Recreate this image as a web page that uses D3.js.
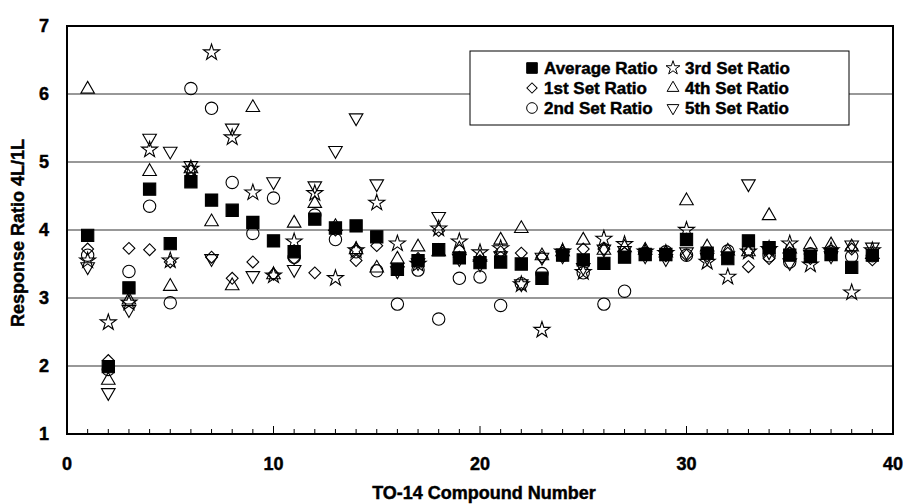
<!DOCTYPE html>
<html>
<head>
<meta charset="utf-8">
<script src="https://cdn.jsdelivr.net/npm/d3@7"></script>
<style>
  body { margin: 0; background: #fff; }
  text { font-family: "Liberation Sans", Arial, sans-serif; font-weight: bold; stroke: #000; stroke-width: 0.45px; }
</style>
</head>
<body>
<div id="chart"></div>
<script>
// compound numbers 1..39
const compounds = d3.range(1, 40);

const avgRatio = [3.92,1.99,3.15,4.60,3.80,4.71,4.44,4.29,4.11,3.84,3.68,4.16,4.03,4.06,3.90,3.42,3.55,3.71,3.59,3.52,
                  3.53,3.50,3.29,3.63,3.56,3.51,3.60,3.64,3.64,3.86,3.66,3.58,3.84,3.74,3.63,3.61,3.64,3.45,3.63];
const set1Ratio = [3.72,2.08,3.73,3.71,3.53,4.87,3.60,3.29,3.53,3.35,3.58,3.37,4.00,3.55,3.77,3.42,3.58,3.99,3.60,3.55,
                   3.68,3.66,3.60,3.66,3.72,3.72,3.66,3.66,3.62,3.63,3.62,3.66,3.46,3.58,3.66,3.58,3.66,3.72,3.56];
const set2Ratio = [3.63,1.95,3.39,4.35,2.93,6.08,5.79,4.70,3.95,4.47,3.60,4.22,3.86,3.68,3.40,2.91,3.41,2.69,3.29,3.31,
                   2.89,3.21,3.36,3.63,3.37,2.91,3.10,3.66,3.68,3.63,3.66,3.69,3.72,3.62,3.53,3.65,3.68,3.61,3.62];
const set3Ratio = [3.55,2.64,2.93,5.18,3.55,4.90,6.61,5.36,4.55,3.33,3.83,4.54,3.29,3.70,4.40,3.80,3.50,4.02,3.83,3.67,
                   3.73,3.20,2.53,3.68,3.38,3.87,3.79,3.68,3.66,4.00,3.53,3.31,3.68,3.72,3.80,3.49,3.70,3.08,3.70];
const set4Ratio = [6.07,1.79,2.97,4.86,3.17,4.90,4.12,3.18,5.80,3.34,4.10,4.39,4.05,3.71,3.44,3.57,3.75,3.68,3.72,3.60,
                   3.85,4.02,3.62,3.68,3.85,3.70,3.74,3.70,3.66,4.43,3.75,3.69,3.68,4.21,3.72,3.78,3.78,3.75,3.64];
const set5Ratio = [3.46,1.61,2.83,5.35,5.16,4.95,3.58,5.50,3.33,4.71,3.42,4.65,5.17,5.65,4.68,3.40,3.52,4.20,3.58,3.50,
                   3.62,3.21,3.60,3.62,3.45,3.72,3.70,3.62,3.58,3.68,3.60,3.62,4.68,3.68,3.52,3.64,3.62,3.78,3.75];

const seriesNames = ["Average Ratio", "1st Set Ratio", "2nd Set Ratio", "3rd Set Ratio", "4th Set Ratio", "5th Set Ratio"];
const xTicks = [0, 10, 20, 30, 40];
const yTicks = [1, 2, 3, 4, 5, 6, 7];

const W = 907, H = 504;
const margin = { top: 26, right: 14, bottom: 70, left: 67 };
const width = W - margin.left - margin.right;
const height = H - margin.top - margin.bottom;

const svg = d3.select("#chart").append("svg")
  .attr("width", W).attr("height", H);
const g = svg.append("g")
  .attr("transform", "translate(" + margin.left + "," + margin.top + ")");

const x = d3.scaleLinear().domain([0, 40]).range([0, width]);
const y = d3.scaleLinear().domain([1, 7]).range([height, 0]);

// grid lines
g.selectAll(".grid").data(yTicks.slice(1, -1)).enter().append("line")
  .attr("x1", 0).attr("x2", width)
  .attr("y1", d => y(d)).attr("y2", d => y(d))
  .attr("stroke", "#333").attr("stroke-width", 1.2);

// x ticks (inward, minor every 1, major every 10)
g.selectAll(".xt").data(d3.range(0, 41)).enter().append("line")
  .attr("x1", d => x(d)).attr("x2", d => x(d))
  .attr("y1", height).attr("y2", d => height - (d % 10 === 0 ? 8 : 5))
  .attr("stroke", "#000").attr("stroke-width", 1);

// tick labels
g.selectAll(".xl").data(xTicks).enter().append("text")
  .attr("x", d => x(d)).attr("y", height + 36)
  .attr("text-anchor", "middle").style("font-size", "18px")
  .text(d => d);
g.selectAll(".yl").data(yTicks).enter().append("text")
  .attr("x", -23).attr("y", d => y(d) + 6)
  .attr("text-anchor", "middle").style("font-size", "18px")
  .text(d => d);

// axis titles
svg.append("text")
  .attr("x", margin.left + width / 2 + 4).attr("y", 499)
  .attr("text-anchor", "middle").style("font-size", "18px")
  .text("TO-14 Compound Number");
svg.append("text")
  .attr("transform", "translate(24," + (margin.top + height / 2 + 3) + ") rotate(-90)")
  .attr("text-anchor", "middle").style("font-size", "18px")
  .text("Response Ratio 4L/1L");

// symbols
const symbols = [
  { type: d3.symbolSquare, size: 150, rot: 0, fill: "#000" },
  { type: d3.symbolSquare, size: 70, rot: 45, fill: "#fff" },
  { type: d3.symbolCircle, size: 120, rot: 0, fill: "#fff" },
  { type: d3.symbolStar, size: 80, rot: 0, fill: "#fff" },
  { type: d3.symbolTriangle, size: 80, rot: 0, fill: "#fff" },
  { type: d3.symbolTriangle, size: 80, rot: 180, fill: "#fff" }
];
const allSeries = [avgRatio, set1Ratio, set2Ratio, set3Ratio, set4Ratio, set5Ratio];

// draw open sets first, average squares on top
const drawOrder = [1, 2, 3, 4, 5, 0];
drawOrder.forEach(function(si) {
  const s = symbols[si];
  const sym = d3.symbol().type(s.type).size(s.size);
  g.append("g").selectAll("path")
    .data(allSeries[si].map((v, i) => ({ n: compounds[i], v: v })))
    .enter().append("path")
    .attr("d", sym)
    .attr("transform", d => "translate(" + x(d.n) + "," + y(d.v) + ") rotate(" + s.rot + ")")
    .attr("fill", s.fill === "#000" ? "#000" : "none")
    .attr("stroke", "#000").attr("stroke-width", 1.1);
});

// frame
g.append("rect").attr("width", width).attr("height", height)
  .attr("fill", "none").attr("stroke", "#000").attr("stroke-width", 2);

// legend
const legend = svg.append("g").attr("transform", "translate(470,51)");
legend.append("rect").attr("width", 379).attr("height", 74)
  .attr("fill", "#fff").attr("stroke", "#000").attr("stroke-width", 1);
seriesNames.forEach(function(name, i) {
  const col = Math.floor(i / 3), row = i % 3;
  const sx = col === 0 ? 62 : 203;
  const sy = 17 + row * 20;
  const s = symbols[i];
  legend.append("path")
    .attr("d", d3.symbol().type(s.type).size(s.size * 0.75))
    .attr("transform", "translate(" + sx + "," + sy + ") rotate(" + s.rot + ")")
    .attr("fill", s.fill === "#000" ? "#000" : "none")
    .attr("stroke", "#000").attr("stroke-width", 1);
  legend.append("text")
    .attr("x", sx + 12).attr("y", sy + 6)
    .style("font-size", "17px")
    .text(name);
});
</script>
</body>
</html>
